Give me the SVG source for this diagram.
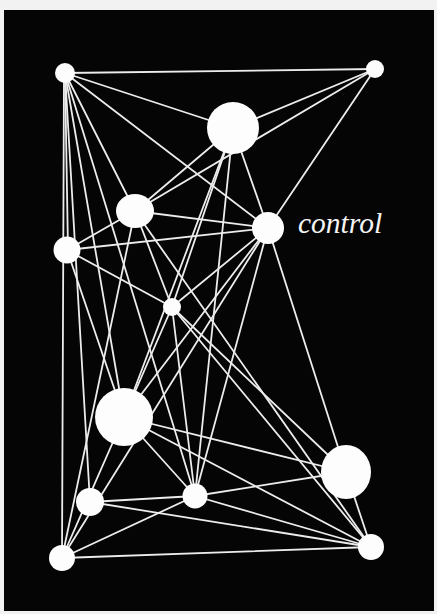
<svg xmlns="http://www.w3.org/2000/svg" width="437" height="614" viewBox="0 0 437 614">
<style>
.bg{fill:#050505}
.edge{stroke:#ececec;stroke-width:1.8;stroke-linecap:round}
.node{fill:#fdfdfd}
.label{font-family:"Liberation Serif","DejaVu Serif",serif;font-style:italic;font-size:29.5px;fill:#f4f4f4}
</style>
<rect x="0" y="0" width="437" height="614" fill="#f2f2f2"/>
<rect class="bg" x="4" y="10" width="430" height="601"/>
<g id="connectors">
<line class="edge" x1="65" y1="73" x2="375" y2="69"/>
<line class="edge" x1="65" y1="73" x2="233" y2="128"/>
<line class="edge" x1="65" y1="73" x2="268" y2="228"/>
<line class="edge" x1="65" y1="73" x2="135" y2="211"/>
<line class="edge" x1="65" y1="73" x2="68" y2="250"/>
<line class="edge" x1="64" y1="73" x2="62" y2="558"/>
<line class="edge" x1="65" y1="73" x2="90" y2="502"/>
<line class="edge" x1="65" y1="73" x2="124" y2="417"/>
<line class="edge" x1="65" y1="73" x2="195" y2="496"/>
<line class="edge" x1="375" y1="69" x2="233" y2="128"/>
<line class="edge" x1="375" y1="69" x2="135" y2="211"/>
<line class="edge" x1="375" y1="69" x2="268" y2="228"/>
<line class="edge" x1="233" y1="128" x2="135" y2="211"/>
<line class="edge" x1="233" y1="128" x2="268" y2="228"/>
<line class="edge" x1="233" y1="128" x2="172" y2="307"/>
<line class="edge" x1="233" y1="128" x2="124" y2="417"/>
<line class="edge" x1="233" y1="128" x2="195" y2="496"/>
<line class="edge" x1="135" y1="211" x2="67" y2="250"/>
<line class="edge" x1="135" y1="211" x2="268" y2="228"/>
<line class="edge" x1="135" y1="211" x2="172" y2="307"/>
<line class="edge" x1="135" y1="211" x2="62" y2="558"/>
<line class="edge" x1="135" y1="211" x2="371" y2="547"/>
<line class="edge" x1="268" y1="228" x2="67" y2="250"/>
<line class="edge" x1="268" y1="228" x2="172" y2="307"/>
<line class="edge" x1="268" y1="228" x2="346" y2="472"/>
<line class="edge" x1="268" y1="228" x2="195" y2="496"/>
<line class="edge" x1="268" y1="228" x2="62" y2="558"/>
<line class="edge" x1="268" y1="228" x2="124" y2="417"/>
<line class="edge" x1="67" y1="250" x2="172" y2="307"/>
<line class="edge" x1="67" y1="250" x2="124" y2="417"/>
<line class="edge" x1="172" y1="307" x2="346" y2="472"/>
<line class="edge" x1="172" y1="307" x2="371" y2="547"/>
<line class="edge" x1="172" y1="307" x2="195" y2="496"/>
<line class="edge" x1="172" y1="307" x2="124" y2="417"/>
<line class="edge" x1="124" y1="417" x2="346" y2="472"/>
<line class="edge" x1="124" y1="417" x2="371" y2="547"/>
<line class="edge" x1="124" y1="417" x2="195" y2="496"/>
<line class="edge" x1="124" y1="417" x2="62" y2="558"/>
<line class="edge" x1="346" y1="472" x2="371" y2="547"/>
<line class="edge" x1="346" y1="472" x2="195" y2="496"/>
<line class="edge" x1="90" y1="502" x2="195" y2="496"/>
<line class="edge" x1="90" y1="502" x2="371" y2="547"/>
<line class="edge" x1="195" y1="496" x2="62" y2="558"/>
<line class="edge" x1="195" y1="496" x2="371" y2="547"/>
<line class="edge" x1="62" y1="558" x2="371" y2="547"/>
</g>
<g id="node-a"><circle class="node" cx="65" cy="73" r="10"/></g>
<g id="node-b"><circle class="node" cx="375" cy="69" r="9"/></g>
<g id="node-c"><circle class="node" cx="233" cy="128" r="26"/></g>
<g id="node-d"><ellipse class="node" cx="135" cy="211" rx="19" ry="17"/></g>
<g id="node-e"><circle class="node" cx="268" cy="228" r="16"/></g>
<g id="node-f"><circle class="node" cx="67" cy="250" r="13.5"/></g>
<g id="node-g"><circle class="node" cx="172" cy="307" r="9"/></g>
<g id="node-h"><circle class="node" cx="124" cy="417" r="29"/></g>
<g id="node-i"><ellipse class="node" cx="346" cy="472" rx="25" ry="27"/></g>
<g id="node-j"><circle class="node" cx="90" cy="502" r="14"/></g>
<g id="node-k"><circle class="node" cx="195" cy="496" r="12.5"/></g>
<g id="node-l"><circle class="node" cx="62" cy="558" r="13"/></g>
<g id="node-m"><circle class="node" cx="371" cy="547" r="13"/></g>
<text class="label" x="298" y="233">control</text>
</svg>
